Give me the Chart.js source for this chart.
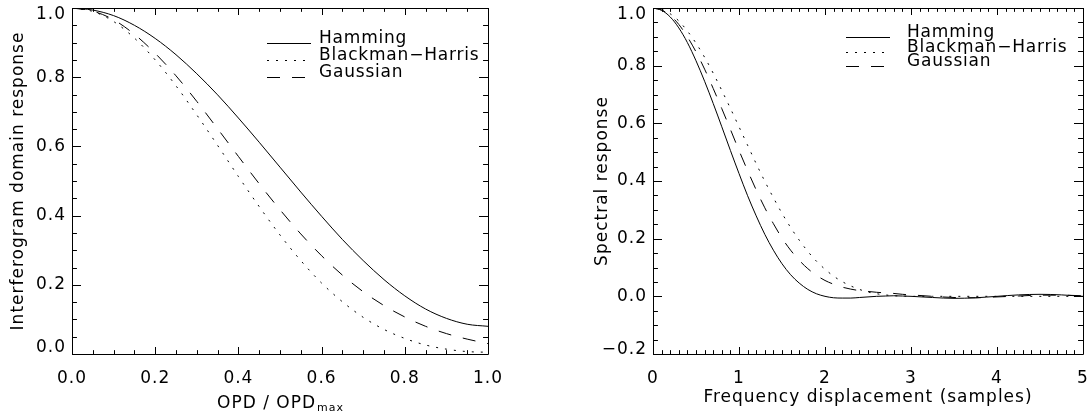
<!DOCTYPE html>
<html>
<head>
<meta charset="utf-8">
<script src="https://cdn.jsdelivr.net/npm/chart.js@4.4.1/dist/chart.umd.min.js"></script>
<style>
  html, body { margin: 0; padding: 0; background: #fff; }
  #wrap { position: relative; width: 1088px; height: 414px; overflow: hidden; }
  .panel { position: absolute; top: 0; width: 544px; height: 414px; }
</style>
</head>
<body>
<div id="wrap">
  <div class="panel" style="left:0"><canvas id="chartOpd" width="544" height="414"></canvas></div>
  <div class="panel" style="left:544px"><canvas id="chartSpec" width="544" height="414"></canvas></div>
</div>
<script>
// ---- left panel: apodisation vs OPD / OPDmax ----
const opd = [0, 0.05, 0.1, 0.15, 0.2, 0.25, 0.3, 0.35, 0.4, 0.45, 0.5,
             0.55, 0.6, 0.65, 0.7, 0.75, 0.8, 0.85, 0.9, 0.95, 1.0];
const opdHamming  = [1.000, 0.994, 0.978, 0.950, 0.912, 0.865, 0.810, 0.749, 0.682, 0.612, 0.540,
                     0.468, 0.398, 0.331, 0.270, 0.215, 0.168, 0.130, 0.103, 0.086, 0.080];
const opdBlackman = [1.000, 0.990, 0.961, 0.913, 0.850, 0.775, 0.691, 0.603, 0.513, 0.426, 0.344,
                     0.270, 0.205, 0.151, 0.106, 0.071, 0.045, 0.026, 0.014, 0.007, 0.005];
const opdGaussian = [1.000, 0.991, 0.966, 0.924, 0.869, 0.804, 0.730, 0.651, 0.571, 0.492, 0.417,
                     0.347, 0.284, 0.228, 0.180, 0.140, 0.107, 0.080, 0.059, 0.043, 0.030];

// ---- right panel: spectral response vs frequency displacement ----
const freq = [0, 0.1, 0.2, 0.3, 0.4, 0.5, 0.6, 0.7, 0.8, 0.9,
              1.0, 1.1, 1.2, 1.3, 1.4, 1.5, 1.6, 1.7, 1.8, 1.9,
              2.0, 2.1, 2.2, 2.3, 2.4, 2.5, 2.6, 2.7, 2.8, 2.9,
              3.0, 3.25, 3.5, 3.75, 4.0, 4.25, 4.5, 4.75, 5.0];
const specHamming  = [1.000, 0.992, 0.969, 0.931, 0.880, 0.817, 0.746, 0.669, 0.588, 0.506,
                      0.426, 0.349, 0.279, 0.215, 0.160, 0.113, 0.075, 0.046, 0.024, 0.009,
                      0.000, -0.005, -0.006, -0.006, -0.004, -0.002, 0.000, 0.001, 0.002, 0.001,
                      0.000, -0.004, -0.007, -0.005, 0.000, 0.005, 0.007, 0.005, 0.000];
const specBlackman = [1.000, 0.995, 0.980, 0.955, 0.920, 0.878, 0.829, 0.774, 0.714, 0.652,
                      0.588, 0.524, 0.460, 0.399, 0.342, 0.288, 0.239, 0.195, 0.156, 0.122,
                      0.094, 0.070, 0.051, 0.036, 0.024, 0.015, 0.009, 0.005, 0.002, 0.001,
                      0.000, 0.000, 0.000, 0.000, 0.000, 0.000, 0.000, 0.000, 0.000];
const specGaussian = [1.000, 0.993, 0.974, 0.943, 0.900, 0.848, 0.788, 0.721, 0.651, 0.579,
                      0.506, 0.436, 0.369, 0.307, 0.252, 0.202, 0.160, 0.125, 0.096, 0.073,
                      0.055, 0.042, 0.032, 0.025, 0.020, 0.017, 0.014, 0.012, 0.010, 0.007,
                      0.005, 0.000, -0.004, -0.005, -0.002, 0.001, 0.004, 0.004, 0.002];

const seriesNames = ['Hamming', 'Blackman\u2212Harris', 'Gaussian'];
const seriesDash = [[], [2, 7], [13, 12]];

const FONT = "'DejaVu Sans', sans-serif";
Chart.defaults.font.family = FONT;
Chart.defaults.font.size = 17;
Chart.defaults.color = '#000';

function fmt1(v) {
    if (Math.abs(v) < 1e-9) v = 0;
    return v.toFixed(1).replace('-', '\u2212');
}

function pts(xs, ys) {
    return xs.map((x, i) => ({ x: x, y: ys[i] }));
}

function makeDatasets(xs, series) {
    return series.map((ys, i) => ({
        label: seriesNames[i],
        data: pts(xs, ys),
        borderColor: '#000',
        borderWidth: 1,
        borderDash: seriesDash[i],
        pointRadius: 0,
        fill: false,
        cubicInterpolationMode: 'monotone',
    }));
}

// wide, airy lettering like the original plot font
const spacing = {
    id: 'spacing',
    beforeDraw(chart) {
        chart.ctx.letterSpacing = '1px';
    }
};

// box around the plot with inward major/minor ticks on all four sides
const frameTicks = {
    id: 'frameTicks',
    afterDraw(chart, args, o) {
        const { ctx, chartArea: a, scales: { x, y } } = chart;
        const isMajor = (v, step) => Math.abs(v / step - Math.round(v / step)) < 1e-6;
        ctx.save();
        ctx.strokeStyle = '#000';
        ctx.lineWidth = 1;
        ctx.beginPath();
        ctx.rect(Math.round(a.left) + 0.5, Math.round(a.top) + 0.5,
                 Math.round(a.right - a.left), Math.round(a.bottom - a.top));
        const n = Math.round((x.max - x.min) / o.xMinor);
        for (let i = 0; i <= n; i++) {
            const v = x.min + i * o.xMinor;
            const px = Math.round(x.getPixelForValue(v)) + 0.5;
            const len = isMajor(v, o.xMajor) ? o.xLen : o.xLen * 0.55;
            ctx.moveTo(px, a.bottom); ctx.lineTo(px, a.bottom - len);
            ctx.moveTo(px, a.top); ctx.lineTo(px, a.top + len);
        }
        const m = Math.round((y.max - y.min) / o.yMinor);
        for (let i = 0; i <= m; i++) {
            const v = y.min + i * o.yMinor;
            const py = Math.round(y.getPixelForValue(v)) + 0.5;
            const len = isMajor(v, o.yMajor) ? o.yLen : o.yLen * 0.55;
            ctx.moveTo(a.left, py); ctx.lineTo(a.left + len, py);
            ctx.moveTo(a.right, py); ctx.lineTo(a.right - len, py);
        }
        ctx.stroke();
        ctx.restore();
    }
};

// legend drawn inside the plot, line sample then label
const innerLegend = {
    id: 'innerLegend',
    afterDraw(chart, args, o) {
        const ctx = chart.ctx;
        ctx.save();
        ctx.letterSpacing = '0.8px';
        ctx.font = '17px ' + FONT;
        ctx.fillStyle = '#000';
        ctx.strokeStyle = '#000';
        ctx.lineWidth = 1;
        ctx.textBaseline = 'alphabetic';
        chart.data.datasets.forEach((ds, i) => {
            const yy = o.rows[i];
            ctx.setLineDash(ds.borderDash);
            ctx.beginPath();
            ctx.moveTo(o.x, yy + 0.5);
            ctx.lineTo(o.x + o.len, yy + 0.5);
            ctx.stroke();
            ctx.setLineDash([]);
            ctx.fillText(ds.label, o.textX, yy);
        });
        ctx.restore();
    }
};

// axis titles (the OPD one needs a subscript)
const axisTitles = {
    id: 'axisTitles',
    afterDraw(chart, args, o) {
        const ctx = chart.ctx;
        const a = chart.chartArea;
        ctx.save();
        ctx.fillStyle = '#000';
        ctx.font = '17px ' + FONT;
        ctx.textBaseline = 'alphabetic';
        const cx = (a.left + a.right) / 2;
        if (o.xSub) {
            const w1 = ctx.measureText(o.xText).width;
            ctx.font = '11px ' + FONT;
            const w2 = ctx.measureText(o.xSub).width;
            const x0 = cx - (w1 + w2) / 2;
            ctx.font = '17px ' + FONT;
            ctx.textAlign = 'left';
            ctx.fillText(o.xText, x0, o.xBase);
            ctx.font = '11px ' + FONT;
            ctx.fillText(o.xSub, x0 + w1 + 1, o.xBase + 3);
        } else {
            ctx.textAlign = 'center';
            ctx.fillText(o.xText, cx, o.xBase);
        }
        ctx.font = '17px ' + FONT;
        ctx.textAlign = 'center';
        ctx.translate(o.yBase, (a.top + a.bottom) / 2);
        ctx.rotate(-Math.PI / 2);
        ctx.fillText(o.yText, 0, 0);
        ctx.restore();
    }
};

function fixSize(prop, size) {
    return function (scale) {
        scale[prop] = size;
        scale.paddingTop = 0; scale.paddingBottom = 0;
        scale.paddingLeft = 0; scale.paddingRight = 0;
    };
}

function makeChart(id, cfg) {
    const [yMin, yMax] = cfg.yRange;
    return new Chart(document.getElementById(id), {
        type: 'line',
        data: { datasets: makeDatasets(cfg.xs, cfg.series) },
        plugins: [spacing, frameTicks, innerLegend, axisTitles],
        options: {
            responsive: false,
            animation: false,
            devicePixelRatio: 1,
            layout: { padding: cfg.padding },
            scales: {
                x: {
                    type: 'linear',
                    min: cfg.xRange[0], max: cfg.xRange[1],
                    grid: { display: false, drawTicks: false },
                    border: { display: false },
                    afterFit: fixSize('height', 60),
                    ticks: {
                        stepSize: cfg.xStep,
                        padding: 14,
                        maxRotation: 0,
                        autoSkip: false,
                        callback: cfg.xFmt,
                    },
                },
                y: {
                    type: 'linear',
                    min: yMin, max: yMax,
                    grid: { display: false, drawTicks: false },
                    border: { display: false },
                    afterFit: fixSize('width', cfg.yWidth),
                    ticks: {
                        stepSize: 0.2,
                        padding: 6,
                        autoSkip: false,
                        // end labels are nudged inside the frame, as in the original
                        callback: v => {
                            if (Math.abs(v - yMax) < 1e-9) return ['', fmt1(v)];
                            if (Math.abs(v - yMin) < 1e-9) return [fmt1(v), ''];
                            return fmt1(v);
                        },
                        font: c => {
                            const v = c.tick ? c.tick.value : NaN;
                            if (Math.abs(v - yMax) < 1e-9) return { lineHeight: cfg.topShift * 2 + 'px' };
                            if (Math.abs(v - yMin) < 1e-9) return { lineHeight: cfg.bottomShift * 2 + 'px' };
                            return {};
                        },
                    },
                },
            },
            plugins: {
                legend: { display: false },
                tooltip: { enabled: false },
                frameTicks: cfg.ticks,
                innerLegend: cfg.legend,
                axisTitles: cfg.titles,
            },
        },
    });
}

makeChart('chartOpd', {
    xs: opd,
    series: [opdHamming, opdBlackman, opdGaussian],
    padding: { top: 8, right: 56, left: 0, bottom: 0 },
    xRange: [0, 1], yRange: [0, 1],
    xStep: 0.2,
    xFmt: v => v.toFixed(1),
    yWidth: 72,
    topShift: 7, bottomShift: 6,
    ticks: { xMajor: 0.2, xMinor: 0.05, yMajor: 0.2, yMinor: 0.05, xLen: 7, yLen: 9 },
    legend: { x: 267, len: 44, textX: 319, rows: [43, 60, 77] },
    titles: { xText: 'OPD / OPD', xSub: 'max', xBase: 408,
              yText: 'Interferogram domain response', yBase: 23 },
});

makeChart('chartSpec', {
    xs: freq,
    series: [specHamming, specBlackman, specGaussian],
    padding: { top: 8, right: 5, left: 0, bottom: 0 },
    xRange: [0, 5], yRange: [-0.2, 1],
    xStep: 1,
    xFmt: v => String(v),
    yWidth: 109,
    topShift: 7, bottomShift: 4,
    ticks: { xMajor: 1, xMinor: 0.1, yMajor: 0.2, yMinor: 0.05, xLen: 7, yLen: 9 },
    legend: { x: 302, len: 44, textX: 363, rows: [37, 52, 66] },
    titles: { xText: 'Frequency displacement (samples)', xBase: 402,
              yText: 'Spectral response', yBase: 63 },
});
</script>
</body>
</html>
